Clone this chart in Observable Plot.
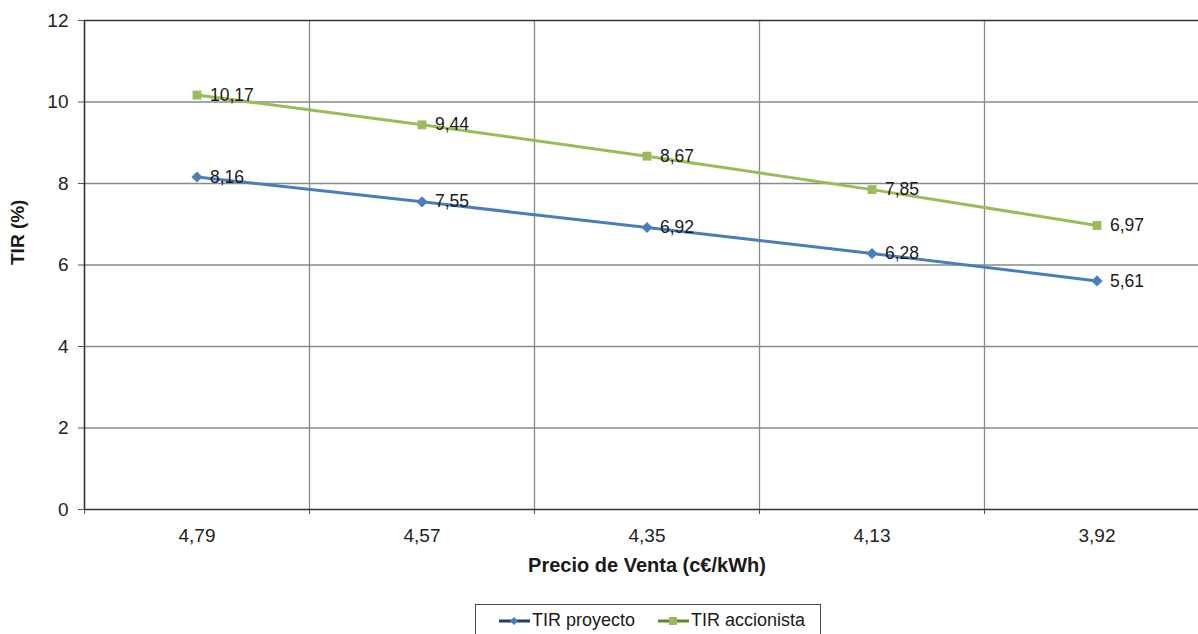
<!DOCTYPE html>
<html>
<head>
<meta charset="utf-8">
<script src="https://cdn.jsdelivr.net/npm/d3@7"></script>
<script src="https://cdn.jsdelivr.net/npm/@observablehq/plot@0.6"></script>
<style>
  html, body { margin: 0; padding: 0; background: #fff; overflow: hidden; width: 1198px; height: 634px; }
  #chart { position: absolute; left: 0; top: 0; width: 1230px; }
  #chart svg { max-width: none !important; width: 1230px !important; height: 634px !important; }
  #legend { position: absolute; left: 475px; top: 604px; width: 346px; height: 40px; border: 1px solid #4d4d4d; box-sizing: border-box;
            font-family: "Liberation Sans", Arial, sans-serif; font-size: 18px; color: #1a1a1a; background: #fff; }
  .item { position: absolute; top: 5px; display: flex; align-items: center; }
  .item svg { margin-right: 1px; }
</style>
</head>
<body>
<div id="chart"></div>
<div id="legend"></div>
<script>
const categories = ["4,79", "4,57", "4,35", "4,13", "3,92"];
const tirProyecto = [8.16, 7.55, 6.92, 6.28, 5.61];
const tirAccionista = [10.17, 9.44, 8.67, 7.85, 6.97];
const yTicks = [0, 2, 4, 6, 8, 10, 12];
const seriesNames = ["TIR proyecto", "TIR accionista"];

const idx = categories.map((_, i) => i);
const boundaries = categories.slice(1).map((_, i) => i + 0.5);
const edgeTicks = [-0.5, ...boundaries];
const fmt = v => v.toFixed(2).replace(".", ",");

const proy = idx.map(i => ({i, v: tirProyecto[i]}));
const acc = idx.map(i => ({i, v: tirAccionista[i]}));

const font = "Liberation Sans, Arial, sans-serif";
const blue = "#4a7ebb", green = "#9bbb59";

const chart = Plot.plot({
  width: 1230, height: 634,
  marginLeft: 84, marginRight: 21, marginTop: 20, marginBottom: 125,
  style: {fontFamily: font, fontSize: "16px", color: "#222", background: "transparent"},
  x: {domain: [-0.5, categories.length - 0.5], axis: null},
  y: {domain: [0, 12], axis: null},
  marks: [
    Plot.ruleY(yTicks.filter(d => d > 0 && d < 12), {stroke: "#8a8a8a", strokeWidth: 1.3}),
    Plot.ruleX(boundaries, {stroke: "#8a8a8a", strokeWidth: 1.3}),
    Plot.axisX(edgeTicks, {tickSize: 5, tickFormat: () => "", stroke: "#555", label: null}),
    Plot.axisX(idx, {tickSize: 0, tickPadding: 19, tickFormat: i => categories[i], fontSize: 19, fill: "#222", label: null}),
    Plot.axisY(yTicks, {tickSize: 6, tickPadding: 10, fontSize: 19, fill: "#222", stroke: "#555", label: null}),
    Plot.ruleY([0, 12], {stroke: "#333", strokeWidth: 1.6}),
    Plot.ruleX([-0.5], {stroke: "#333", strokeWidth: 1.6}),
    Plot.line(acc, {x: "i", y: "v", stroke: green, strokeWidth: 3}),
    Plot.line(proy, {x: "i", y: "v", stroke: blue, strokeWidth: 3}),
    Plot.dot(acc, {x: "i", y: "v", symbol: "square", r: 5, fill: green, stroke: "none"}),
    Plot.dot(proy, {x: "i", y: "v", symbol: "diamond2", r: 5, fill: blue, stroke: "none"}),
    Plot.text(acc, {x: "i", y: "v", text: d => fmt(d.v), textAnchor: "start", dx: 13, fontSize: 17.5, fill: "#1a1a1a"}),
    Plot.text(proy, {x: "i", y: "v", text: d => fmt(d.v), textAnchor: "start", dx: 13, fontSize: 17.5, fill: "#1a1a1a"}),
    Plot.text(["TIR (%)"], {frameAnchor: "left", dx: -67, rotate: -90, text: d => d, fontWeight: "bold", fontSize: 19, fill: "#1a1a1a"}),
    Plot.text(["Precio de Venta (c€/kWh)"], {frameAnchor: "bottom", dy: 62, text: d => d, fontWeight: "bold", fontSize: 20, fill: "#1a1a1a"})
  ]
});
document.getElementById("chart").append(chart);

// legend
const legend = d3.select("#legend");
const legendColors = ["#1f3a6b", "#5b8a2c"];
const legendLefts = [22, 181];
seriesNames.forEach((name, k) => {
  const item = legend.append("div").attr("class", "item").style("left", legendLefts[k] + "px");
  const s = item.append("svg").attr("width", 33).attr("height", 18);
  s.append("line").attr("x1", 1).attr("x2", 32).attr("y1", 9).attr("y2", 9).attr("stroke", legendColors[k]).attr("stroke-width", 3);
  if (k === 0) s.append("path").attr("d", "M16,5 L20,9 L16,13 L12,9 Z").attr("fill", blue);
  else s.append("rect").attr("x", 12).attr("y", 5).attr("width", 8).attr("height", 8).attr("fill", green);
  item.append("span").text(name);
});
</script>
</body>
</html>
